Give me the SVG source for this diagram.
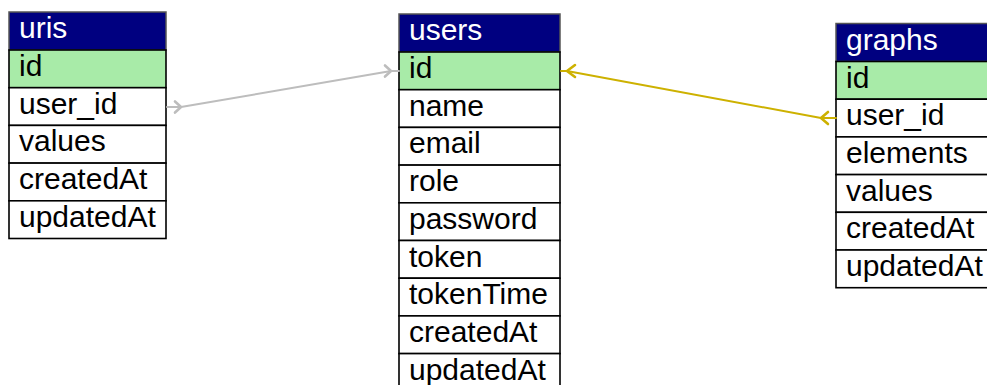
<svg xmlns="http://www.w3.org/2000/svg" width="987" height="385" viewBox="0 0 987 385">
  <style>
    .hd { fill: #000080; stroke: #555; stroke-width: 1.5; }
    .pk { fill: #a8eba8; stroke: #000; stroke-width: 1.6; }
    .row { fill: #fff; stroke: #000; stroke-width: 1.6; }
    text { font-family: "Liberation Sans", Arial, sans-serif; font-size: 30px; }
    .ht { fill: #fff; }
    .ft { fill: #000; }
    .gray { fill: none; stroke: #bdbdbd; stroke-width: 2; stroke-linejoin: round; stroke-linecap: round; }
    .gold { fill: none; stroke: #cdb100; stroke-width: 2; stroke-linejoin: round; stroke-linecap: round; }
    .head { stroke-width: 2.6; }
  </style>
  <rect width="987" height="385" fill="#fff"/>

  <!-- uris table -->
  <g id="uris" transform="translate(9,12)">
    <rect class="hd" x="0" y="0" width="157" height="38"/>
    <text class="ht" x="10" y="25.5">uris</text>
    <rect class="pk" x="0" y="38" width="157" height="37.7"/>
    <text class="ft" x="10" y="64">id</text>
    <rect class="row" x="0" y="75.7" width="157" height="37.7"/>
    <text class="ft" x="10" y="101.7">user_id</text>
    <rect class="row" x="0" y="113.4" width="157" height="37.7"/>
    <text class="ft" x="10" y="139.4">values</text>
    <rect class="row" x="0" y="151.1" width="157" height="37.7"/>
    <text class="ft" x="10" y="177.1">createdAt</text>
    <rect class="row" x="0" y="188.8" width="157" height="37.7"/>
    <text class="ft" x="10" y="214.8">updatedAt</text>
  </g>

  <!-- users table -->
  <g id="users" transform="translate(399,14)">
    <rect class="hd" x="0" y="0" width="161" height="38"/>
    <text class="ht" x="10" y="26">users</text>
    <rect class="pk" x="0" y="38" width="161" height="37.7"/>
    <text class="ft" x="10" y="64">id</text>
    <rect class="row" x="0" y="75.7" width="161" height="37.7"/>
    <text class="ft" x="10" y="101.7">name</text>
    <rect class="row" x="0" y="113.4" width="161" height="37.7"/>
    <text class="ft" x="10" y="139.4">email</text>
    <rect class="row" x="0" y="151.1" width="161" height="37.7"/>
    <text class="ft" x="10" y="177.1">role</text>
    <rect class="row" x="0" y="188.8" width="161" height="37.7"/>
    <text class="ft" x="10" y="214.8">password</text>
    <rect class="row" x="0" y="226.5" width="161" height="37.7"/>
    <text class="ft" x="10" y="252.5">token</text>
    <rect class="row" x="0" y="264.2" width="161" height="37.7"/>
    <text class="ft" x="10" y="290.2">tokenTime</text>
    <rect class="row" x="0" y="301.9" width="161" height="37.7"/>
    <text class="ft" x="10" y="327.9">createdAt</text>
    <rect class="row" x="0" y="339.6" width="161" height="37.7"/>
    <text class="ft" x="10" y="365.6">updatedAt</text>
  </g>

  <!-- graphs table -->
  <g id="graphs" transform="translate(836,23.5)">
    <rect class="hd" x="0" y="0" width="160" height="38"/>
    <text class="ht" x="10" y="26">graphs</text>
    <rect class="pk" x="0" y="38" width="160" height="37.7"/>
    <text class="ft" x="10" y="64">id</text>
    <rect class="row" x="0" y="75.7" width="160" height="37.7"/>
    <text class="ft" x="10" y="101.7">user_id</text>
    <rect class="row" x="0" y="113.4" width="160" height="37.7"/>
    <text class="ft" x="10" y="139.4">elements</text>
    <rect class="row" x="0" y="151.1" width="160" height="37.7"/>
    <text class="ft" x="10" y="177.1">values</text>
    <rect class="row" x="0" y="188.8" width="160" height="37.7"/>
    <text class="ft" x="10" y="214.8">createdAt</text>
    <rect class="row" x="0" y="226.5" width="160" height="37.7"/>
    <text class="ft" x="10" y="252.5">updatedAt</text>
  </g>

  <!-- relations -->
  <g id="connectors">
    <!-- uris.user_id -> users.id -->
    <path class="gray" d="M167,107 L181,107 L391,71 L399,71"/>
    <path class="gray head" d="M175,101.5 L181,107 L175,112.5"/>
    <path class="gray head" d="M385,65.5 L391,71 L385,76.5"/>
    <!-- graphs.user_id -> users.id -->
    <path class="gold" d="M836,118 L821,118 L567,71 L561,71"/>
    <path class="gold head" d="M828,112 L821,118 L828,124"/>
    <path class="gold head" d="M575,65 L567,71 L575,77"/>
  </g>
</svg>
